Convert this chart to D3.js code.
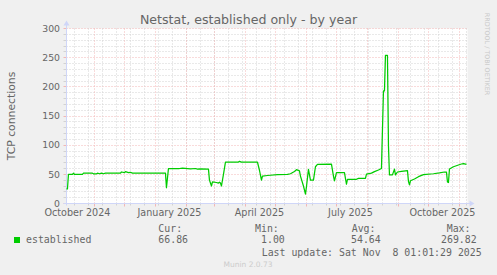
<!DOCTYPE html>
<html>
<head>
<meta charset="utf-8">
<script src="https://cdn.jsdelivr.net/npm/d3@7"></script>
<style>
  body { margin: 0; background: #f0f0f0; }
  text { font-family: "DejaVu Sans", sans-serif; fill: #666; }
  .mono { font-family: "DejaVu Sans Mono", monospace; white-space: pre; }
</style>
</head>
<body>
<svg width="497" height="275"></svg>
<script>
// daily averages
const dates = ['2024-10-04','2024-10-05','2024-10-06','2024-10-10','2024-10-11','2024-10-12','2024-10-20','2024-10-21',
  '2024-10-30','2024-10-31','2024-11-03','2024-11-04','2024-11-06','2024-11-08','2024-11-10','2024-11-12','2024-11-27',
  '2024-11-28','2024-12-01','2024-12-02','2024-12-05','2024-12-07','2024-12-09','2025-01-11','2025-01-12','2025-01-14',
  '2025-01-25','2025-01-28','2025-02-05','2025-02-10','2025-02-12','2025-02-15','2025-02-23','2025-02-24','2025-02-26',
  '2025-02-27','2025-03-03','2025-03-05','2025-03-06','2025-03-07','2025-03-08','2025-03-10','2025-03-12','2025-03-25',
  '2025-03-26','2025-03-28','2025-04-13','2025-04-15','2025-04-17','2025-04-18','2025-04-23','2025-05-03','2025-05-13',
  '2025-05-16','2025-05-20','2025-05-22','2025-05-25','2025-05-26','2025-05-29','2025-05-31','2025-06-01','2025-06-03',
  '2025-06-05','2025-06-08','2025-06-10','2025-06-12','2025-06-26','2025-06-28','2025-06-29','2025-07-01','2025-07-09',
  '2025-07-11','2025-07-12','2025-07-21','2025-07-23','2025-07-30','2025-07-31','2025-08-05','2025-08-08','2025-08-12',
  '2025-08-15','2025-08-17','2025-08-18','2025-08-19','2025-08-21','2025-08-22','2025-08-23','2025-08-26','2025-08-28',
  '2025-08-29','2025-08-31','2025-09-04','2025-09-10','2025-09-11','2025-09-12','2025-09-13','2025-09-17','2025-09-21',
  '2025-09-26','2025-10-06','2025-10-12','2025-10-17','2025-10-19','2025-10-20','2025-10-21','2025-10-22','2025-10-26',
  '2025-10-31','2025-11-03','2025-11-05','2025-11-08'];
const established = [25,25,50,50,52,50,50,52,
  52,51,51,52,51,52,51,52,52,
  54,53,54.5,53,53.5,52,52,27,60,
  60,60.5,59.5,60,59,59.5,59,40,30,
  37,36,35,36.5,35,30,50,71,71,
  72.3,71,71,57,40,47,48,49.4,50,
  51,55,58,56,47,30,16,29,58.6,
  40,40,63,67,67.5,47,39,53,53,
  33,41.4,41.5,43,43,50.5,52,54.6,57.4,
  60,193,193,254,254,99,49,49,59,
  49,54,55,56.5,38,32,39,42,46,
  49.5,51,52.5,54,54,37,36,59,63,
  66,67.7,68.5,67];

const yTicks = [0, 50, 100, 150, 200, 250, 300];
const xLabels = ['October 2024', 'January 2025', 'April 2025', 'July 2025', 'October 2025'];
const xLabelDates = ['2024-10-15', '2025-01-15', '2025-04-15', '2025-07-15', '2025-10-15'];

const legendHead = ['Cur:', 'Min:', 'Avg:', 'Max:'];
const legendVals = ['66.86', '1.00', '54.64', '269.82'];
const lastUpdate = 'Last update: Sat Nov  8 01:01:29 2025';

const parse = d3.timeParse('%Y-%m-%d');
const data = dates.map((d, i) => ({ t: parse(d), v: established[i] }));

const startT = new Date(2024, 9, 4, 1, 1, 29);
const endT = new Date(2025, 10, 8, 1, 1, 29);

const svg = d3.select('svg');
const pLeft = 66.5, pRight = 466.5, pTop = 28.5, pBottom = 203.5;

const x = d3.scaleTime().domain([startT, endT]).range([pLeft, pRight]);
const y = d3.scaleLinear().domain([0, 300]).range([pBottom, pTop]);
const px = v => Math.round(v - 0.5) + 0.5;

svg.append('rect').attr('width', 497).attr('height', 275).attr('fill', '#f0f0f0');
svg.append('rect').attr('x', pLeft).attr('y', pTop).attr('width', pRight - pLeft + 1).attr('height', pBottom - pTop)
  .attr('fill', '#fff');

const grid = svg.append('g');
const gray = '#d2d2d2', red = '#f2b6b6';

// horizontal grid, 10 minor / 50 major
d3.range(0, 301, 10).forEach(v => {
  const major = v % 50 === 0;
  const yy = px(y(v));
  grid.append('line').attr('x1', pLeft).attr('x2', pRight + 1).attr('y1', yy).attr('y2', yy)
    .attr('stroke', major ? red : gray).attr('stroke-dasharray', '1,2');
  grid.append('line').attr('x1', pLeft - 3).attr('x2', pLeft).attr('y1', yy).attr('y2', yy)
    .attr('stroke', major ? red : gray);
});

// vertical grid: every other week gray, month starts red
d3.timeDay.range(new Date(2024, 9, 12), endT, 14).forEach(t => {
  const xx = px(x(t));
  grid.append('line').attr('x1', xx).attr('x2', xx).attr('y1', pTop).attr('y2', pBottom)
    .attr('stroke', gray).attr('stroke-dasharray', '1,2');
  grid.append('line').attr('x1', xx).attr('x2', xx).attr('y1', pBottom).attr('y2', pBottom + 2)
    .attr('stroke', gray);
});
d3.timeMonth.range(startT, endT).forEach(t => {
  const xx = px(x(t));
  grid.append('line').attr('x1', xx).attr('x2', xx).attr('y1', pTop).attr('y2', pBottom)
    .attr('stroke', red).attr('stroke-dasharray', '1,2');
  grid.append('line').attr('x1', xx).attr('x2', xx).attr('y1', pBottom).attr('y2', pBottom + 3)
    .attr('stroke', red);
});

// axes with arrows
const axisCol = '#cfd6f8';
svg.append('line').attr('x1', pLeft).attr('x2', pLeft).attr('y1', pBottom + 2).attr('y2', pTop - 4).attr('stroke', axisCol);
svg.append('path').attr('d', `M${pLeft - 3},${pTop - 3}L${pLeft + 3},${pTop - 3}L${pLeft},${pTop - 8}Z`).attr('fill', axisCol);
svg.append('line').attr('x1', pLeft - 3).attr('x2', pRight + 4).attr('y1', pBottom).attr('y2', pBottom).attr('stroke', axisCol);
svg.append('path').attr('d', `M${pRight + 3},${pBottom - 3}L${pRight + 3},${pBottom + 3}L${pRight + 8},${pBottom}Z`).attr('fill', axisCol);

// series
const line = d3.line().x(d => x(d.t)).y(d => y(d.v));
svg.append('path').datum(data).attr('d', line)
  .attr('fill', 'none').attr('stroke', '#00cc00').attr('stroke-width', 1.25).attr('stroke-linejoin', 'round');

// tick labels
svg.selectAll('.ylab').data(yTicks).enter().append('text')
  .attr('x', 60).attr('y', d => y(d) + 3.2)
  .attr('text-anchor', 'end').attr('font-size', 9.3).text(d => d);

svg.selectAll('.xlab').data(xLabels).enter().append('text')
  .attr('x', (d, i) => x(parse(xLabelDates[i]))).attr('y', 216)
  .attr('text-anchor', 'middle').attr('font-size', 9.6).text(d => d);

// titles
svg.append('text').attr('x', 248.5).attr('y', 24).attr('text-anchor', 'middle')
  .attr('font-size', 12.6).text('Netstat, established only - by year');
svg.append('text').attr('transform', `translate(15,${(pTop + pBottom) / 2}) rotate(-90)`)
  .attr('text-anchor', 'middle').attr('font-size', 10.8).text('TCP connections');
svg.append('text').attr('transform', 'translate(485,54) rotate(90)')
  .attr('text-anchor', 'middle').attr('font-size', 6.4).style('fill', '#c8c8c8')
  .text('RRDTOOL / TOBI OETIKER');

// legend
const headX = [158.3, 255, 351.7, 446.7];
const valX = [158.3, 261, 351, 441];
svg.append('rect').attr('x', 14).attr('y', 237).attr('width', 6).attr('height', 6).attr('fill', '#00cc00');
svg.append('text').attr('class', 'mono').attr('x', 26).attr('y', 243).attr('font-size', 9.9).text('established');
legendHead.forEach((h, i) => {
  svg.append('text').attr('class', 'mono').attr('x', headX[i]).attr('y', 231.5).attr('font-size', 9.9).text(h);
  svg.append('text').attr('class', 'mono').attr('x', valX[i]).attr('y', 243).attr('font-size', 9.9).text(legendVals[i]);
});
svg.append('text').attr('class', 'mono').attr('x', 261.7).attr('y', 255.5).attr('font-size', 9.9).text(lastUpdate);
svg.append('text').attr('x', 248).attr('y', 266.5).attr('text-anchor', 'middle')
  .attr('font-size', 7.5).style('fill', '#cccccc').text('Munin 2.0.73');
</script>
</body>
</html>
